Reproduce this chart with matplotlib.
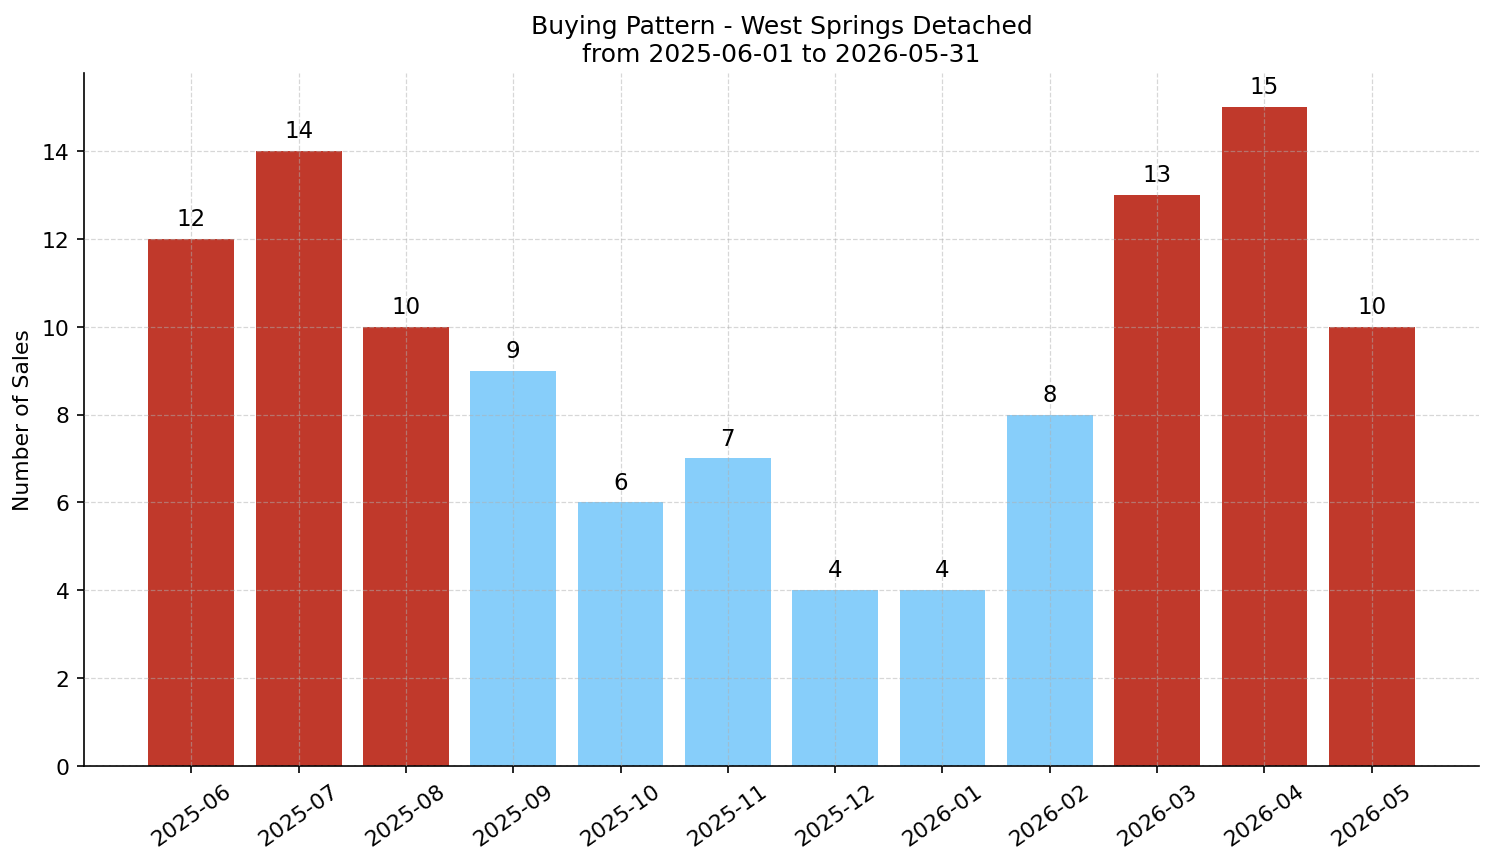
import numpy as np
import matplotlib
matplotlib.use('Agg')
import matplotlib.pyplot as plt

months = ['2025-06', '2025-07', '2025-08', '2025-09', '2025-10', '2025-11',
          '2025-12', '2026-01', '2026-02', '2026-03', '2026-04', '2026-05']
sales = [12, 14, 10, 9, 6, 7, 4, 4, 8, 13, 15, 10]
threshold = 10  # months at or above this are highlighted

HOT = '#c0392b'
COOL = '#87cefa'

fig = plt.figure(figsize=(9.96, 5.753), dpi=150)
ax = fig.add_axes([0.0562, 0.1112, 0.9338, 0.8030])

x = np.arange(len(months))
colors = [HOT if s >= threshold else COOL for s in sales]
bars = ax.bar(x, sales, width=0.8, color=colors, zorder=1)

for b, s in zip(bars, sales):
    ax.text(b.get_x() + b.get_width() / 2, s + 0.2, str(s),
            ha='center', va='bottom', fontsize=11)

ax.set_xticks(x)
ax.set_xticklabels(months, rotation=35, ha='center', fontsize=10.5)
ax.tick_params(axis='y', labelsize=10.5)
ax.set_xlim(-1, 12)
ax.set_ylim(0, 15.77)
ax.set_ylabel('Number of Sales', fontsize=10.5)
ax.set_title('Buying Pattern - West Springs Detached\nfrom 2025-06-01 to 2026-05-31',
             fontsize=12)
# grid sits on top of the bars, faint
ax.set_axisbelow(False)
ax.grid(linestyle='--', alpha=0.5, linewidth=0.6, zorder=3)
ax.spines['top'].set_visible(False)
ax.spines['right'].set_visible(False)

fig.savefig('out.png', dpi=150)
